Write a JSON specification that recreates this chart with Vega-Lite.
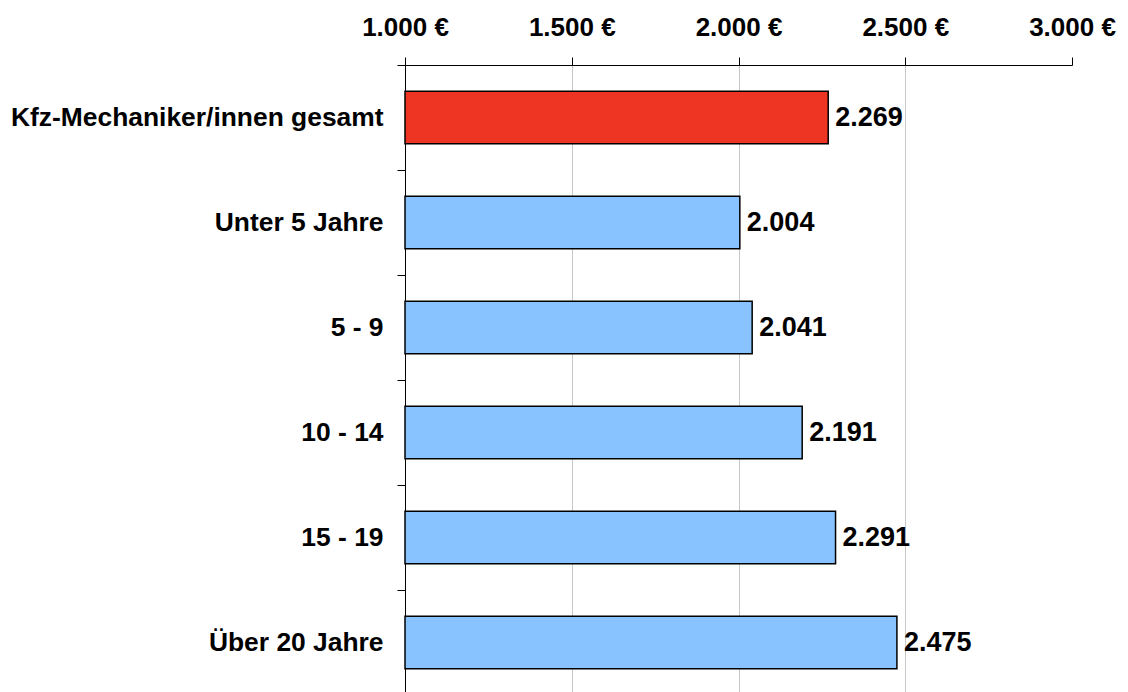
{
  "$schema": "https://vega.github.io/schema/vega-lite/v6.json",
  "autosize": "none",
  "padding": {"left": 405, "top": 65, "right": 56, "bottom": 0},
  "width": 667,
  "height": 630,
  "background": "white",
  "data": {
    "values": [
      {"kategorie": "Kfz-Mechaniker/innen gesamt", "wert": 2269, "typ": "gesamt"},
      {"kategorie": "Unter 5 Jahre", "wert": 2004, "typ": "Gruppe"},
      {"kategorie": "5 - 9", "wert": 2041, "typ": "Gruppe"},
      {"kategorie": "10 - 14", "wert": 2191, "typ": "Gruppe"},
      {"kategorie": "15 - 19", "wert": 2291, "typ": "Gruppe"},
      {"kategorie": "Über 20 Jahre", "wert": 2475, "typ": "Gruppe"}
    ]
  },
  "encoding": {
    "y": {
      "field": "kategorie",
      "type": "nominal",
      "sort": null,
      "scale": {"paddingInner": 0.5, "paddingOuter": 0.25},
      "axis": {
        "title": null,
        "orient": "left",
        "domainColor": "black",
        "domainWidth": 1,
        "tickColor": "black",
        "tickSize": 8,
        "tickOffset": -52.5,
        "labelOffset": 52.5,
        "labelFont": "Liberation Sans",
        "labelFontSize": 26.4,
        "labelFontWeight": "bold",
        "labelColor": "black",
        "labelPadding": 14,
        "labelLimit": 500
      }
    },
    "x": {
      "field": "wert",
      "type": "quantitative",
      "scale": {"domain": [1000, 3000], "zero": false, "nice": false},
      "axis": {
        "title": null,
        "orient": "top",
        "values": [1000, 1500, 2000, 2500, 3000],
        "format": "$,.0f",
        "domainColor": "black",
        "tickColor": "black",
        "tickSize": 8,
        "grid": true,
        "gridColor": {"condition": {"test": "datum.value === 1000 || datum.value === 3000", "value": "transparent"}, "value": "#c8c8c8"},
        "labelFont": "Liberation Sans",
        "labelFontSize": 26,
        "labelFontWeight": "bold",
        "labelColor": "black",
        "labelFlush": false,
        "labelOverlap": false,
        "labelPadding": 17
      }
    }
  },
  "layer": [
    {
      "mark": {"type": "bar", "stroke": "black", "strokeWidth": 1.5},
      "encoding": {
        "x2": {"datum": 1000},
        "color": {
          "field": "typ",
          "type": "nominal",
          "scale": {"domain": ["gesamt", "Gruppe"], "range": ["#EE3524", "#89C3FF"]},
          "legend": null
        }
      }
    },
    {
      "mark": {"type": "text", "align": "left", "baseline": "middle", "dx": 7, "font": "Liberation Sans", "fontSize": 27, "fontWeight": "bold", "color": "black"},
      "encoding": {
        "text": {"field": "wert", "type": "quantitative", "format": ",.0f"}
      }
    }
  ],
  "config": {
    "view": {"stroke": null},
    "locale": {
      "number": {"decimal": ",", "thousands": ".", "grouping": [3], "currency": ["", " €"]}
    }
  }
}
